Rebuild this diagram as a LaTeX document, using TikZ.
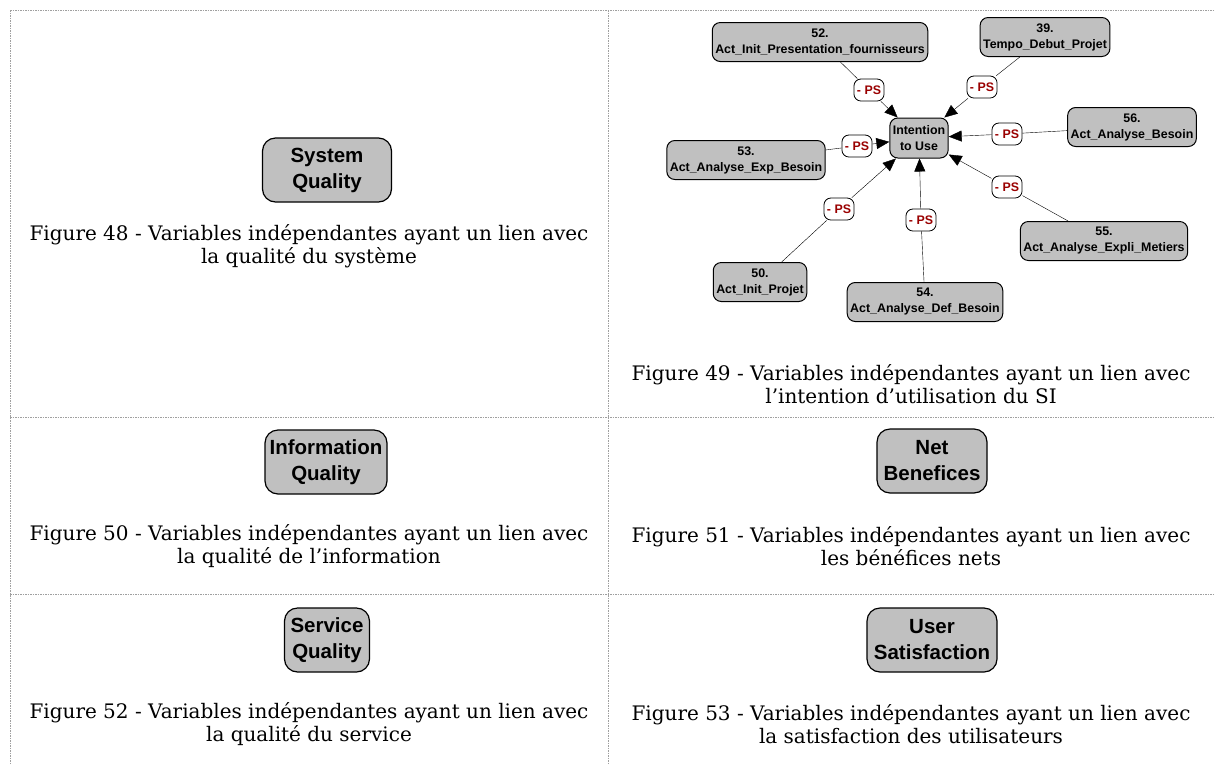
\documentclass[tikz,border=0pt]{standalone}
\usepackage{fontspec}
\setmainfont{DejaVu Serif}
\newfontfamily\arialfont{Liberation Sans}
\usetikzlibrary{arrows.meta}
\definecolor{boxGray}{HTML}{C0C0C0}
\definecolor{psRed}{HTML}{9A0000}
\definecolor{gridGray}{HTML}{A0A0A0}

\begin{document}
\begin{tikzpicture}[x=1pt, y=-1pt,
    bigbox/.style={draw, line width=1.2pt, rounded corners=13pt, fill=boxGray, align=center,
        inner sep=3pt, minimum height=64pt,
        font=\arialfont\bfseries\fontsize{20.5}{26}\selectfont},
    varbox/.style={draw, line width=1pt, rounded corners=8pt, fill=boxGray, align=center,
        inner sep=3pt, minimum height=39pt,
        font=\arialfont\bfseries\fontsize{12.4}{16}\selectfont},
    pslabel/.style={draw, line width=0.8pt, rounded corners=7pt, fill=white, inner sep=3pt,
        minimum height=22pt, minimum width=30pt, text=psRed,
        font=\arialfont\bfseries\fontsize{12.4}{14}\selectfont},
    caption/.style={align=center, font=\fontsize{20}{23.5}\selectfont},
    arr/.style={-{Triangle[length=13pt, width=11pt]}},
    gridline/.style={gridGray, line width=0.8pt, dash pattern=on 1.5pt off 1pt}]
    \useasboundingbox (0,0) rectangle (1215,764);

    % table lines
    \draw[gridline] (10,10) -- (1215,10);
    \draw[gridline] (10,10) -- (10,764);
    \draw[gridline] (608,10) -- (608,764);
    \draw[gridline] (10,417) -- (1215,417);
    \draw[gridline] (10,594) -- (1215,594);

    % Figure 48
    \node[bigbox, minimum width=129pt] (sysq) at (327,170) {System\\Quality};
    \node[caption] (cap48) at (309,246) {Figure 48 - Variables indépendantes ayant un lien avec\\la qualité du système};

    % Figure 49
    \node[varbox, minimum width=57pt, minimum height=40pt] (itu) at (919,138) {Intention\\to Use};
    \node[varbox] (v52) at (820,42) {52.\\Act\_Init\_Presentation\_fournisseurs};
    \node[varbox] (v39) at (1045,37) {39.\\Tempo\_Debut\_Projet};
    \node[varbox] (v53) at (746,160) {53.\\Act\_Analyse\_Exp\_Besoin};
    \node[varbox] (v56) at (1132,127) {56.\\Act\_Analyse\_Besoin};
    \node[varbox] (v55) at (1104,241) {55.\\Act\_Analyse\_Expli\_Metiers};
    \node[varbox] (v54) at (925,302) {54.\\Act\_Analyse\_Def\_Besoin};
    \node[varbox] (v50) at (760,282) {50.\\Act\_Init\_Projet};

    \node[pslabel] (ps52) at (869,90) {- PS};
    \node[pslabel] (ps39) at (982,87) {- PS};
    \node[pslabel] (ps53) at (857,146) {- PS};
    \node[pslabel] (ps56) at (1007,134) {- PS};
    \node[pslabel] (ps55) at (1007,187) {- PS};
    \node[pslabel] (ps54) at (921,220) {- PS};
    \node[pslabel] (ps50) at (839,209) {- PS};

    \foreach \v in {52,39,53,56,55,54,50} {
        \draw (v\v) -- (ps\v);
        \draw[arr] (ps\v) -- (itu);
    }

    \node[caption] (cap49) at (911,384) {Figure 49 - Variables indépendantes ayant un lien avec\\l'intention d'utilisation du SI};

    % Figure 50 and 51
    \node[bigbox, minimum width=122pt] (infoq) at (326,462) {Information\\Quality};
    \node[caption] (cap50) at (309,546) {Figure 50 - Variables indépendantes ayant un lien avec\\la qualité de l'information};
    \node[bigbox, minimum width=110pt] (netb) at (932,461) {Net\\Benefices};
    \node[caption] (cap51) at (911,546) {Figure 51 - Variables indépendantes ayant un lien avec\\les bénéfices nets};

    % Figure 52 and 53
    \node[bigbox, minimum width=85pt] (servq) at (327,640) {Service\\Quality};
    \node[caption] (cap52) at (309,724) {Figure 52 - Variables indépendantes ayant un lien avec\\la qualité du service};
    \node[bigbox, minimum width=130pt] (usat) at (932,640) {User\\Satisfaction};
    \node[caption] (cap53) at (911,724) {Figure 53 - Variables indépendantes ayant un lien avec\\la satisfaction des utilisateurs};
\end{tikzpicture}
\end{document}
